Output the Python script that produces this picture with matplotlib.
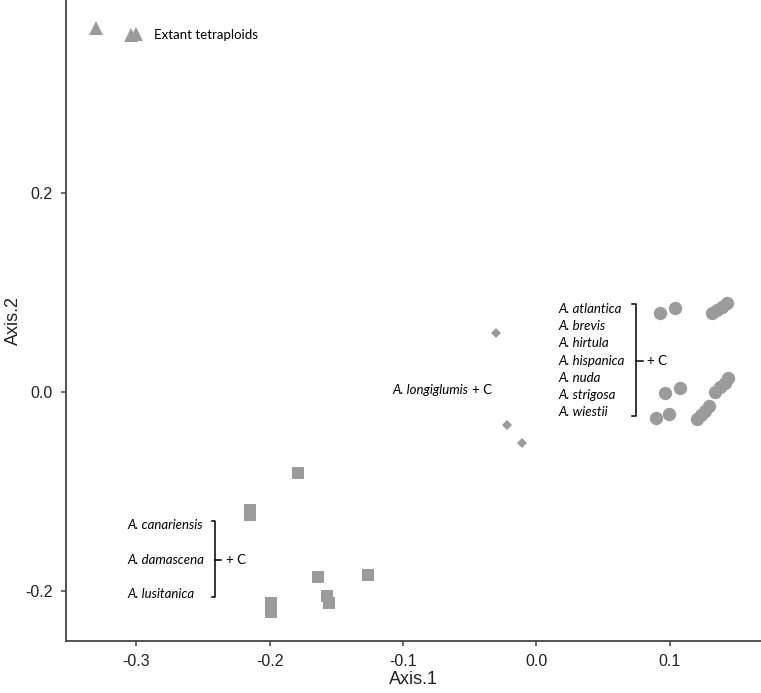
import matplotlib.pyplot as plt

# PCoA scores
tetra_x = [-0.3303, -0.3041, -0.3003]
tetra_y = [0.3658, 0.3588, 0.3598]

longi_x = [-0.0302, -0.0217, -0.0110]
longi_y = [0.0596, -0.0332, -0.0516]

cdiploid_x = [-0.1790, -0.2148, -0.2151, -0.1635, -0.1260, -0.1568, -0.1555, -0.1990, -0.1990]
cdiploid_y = [-0.0811, -0.1186, -0.1236, -0.1862, -0.1839, -0.2050, -0.2124, -0.2124, -0.2208]

adiploid_x = [0.0928, 0.1041, 0.1318, 0.1356, 0.1394, 0.1431,
              0.0966, 0.1078, 0.0896, 0.0996, 0.1341, 0.1378, 0.1416, 0.1438,
              0.1206, 0.1236, 0.1266, 0.1296]
adiploid_y = [0.0794, 0.0844, 0.0794, 0.0824, 0.0854, 0.0894,
              -0.0010, 0.0040, -0.0261, -0.0221, 0.0000, 0.0050, 0.0090, 0.0141,
              -0.0271, -0.0231, -0.0191, -0.0141]

right_species = ["A. atlantica", "A. brevis", "A. hirtula", "A. hispanica",
                 "A. nuda", "A. strigosa", "A. wiestii"]
left_species = ["A. canariensis", "A. damascena", "A. lusitanica"]

xticks = [-0.3, -0.2, -0.1, 0.0, 0.1]
yticks = [-0.2, 0.0, 0.2]

grey = "#9b9b9b"
ink = "#222222"
note_font = "Lato"
note_size = 9.5

fig = plt.figure(figsize=(7.61, 6.93), dpi=100)
ax = fig.add_axes([0.0861, 0.075, 0.9139, 0.925])

ax.plot(tetra_x, tetra_y, "^", color=grey, ms=10.5, mew=0)
ax.plot(longi_x, longi_y, "D", color=grey, ms=5.6, mew=0)
ax.plot(cdiploid_x, cdiploid_y, "s", color=grey, ms=8.4, mew=0)
ax.plot(adiploid_x, adiploid_y, "o", color=grey, ms=9.6, mew=0)

ax.set_xlim(-0.3532, 0.1686)
ax.set_ylim(-0.2503, 0.394)
ax.set_xticks(xticks)
ax.set_yticks(yticks)
ax.set_xticklabels([f"{v:.1f}" for v in xticks])
ax.set_yticklabels([f"{v:.1f}" for v in yticks])

for s in ["top", "right"]:
    ax.spines[s].set_visible(False)
for s in ["left", "bottom"]:
    ax.spines[s].set_color("#444444")
    ax.spines[s].set_linewidth(1.3)
ax.tick_params(direction="out", length=3.5, width=1.1, color="#444444",
               labelsize=11.5, labelcolor=ink, pad=6)
for lab in ax.get_xticklabels() + ax.get_yticklabels():
    lab.set_family("Liberation Sans")

ax.set_xlabel("Axis.1", fontsize=13, family="Liberation Sans", color=ink, labelpad=1)
ax.set_ylabel("Axis.2", fontsize=13, family="Liberation Sans", color=ink, labelpad=2)

# annotations
ax.text(-0.2871, 0.3588, "Extant tetraploids", family=note_font, fontsize=note_size,
        va="center", ha="left", color="black")

ax.text(-0.0332, 0.002, "+ C", family=note_font, fontsize=note_size, va="center", ha="right")
ax.text(-0.0510, 0.002, "A. longiglumis", family=note_font, style="italic",
        fontsize=note_size, va="center", ha="right")

# right bracket group
ry0, rdy = 0.0831, -0.01715
for i, name in enumerate(right_species):
    ax.text(0.0163, ry0 + i * rdy, name, family=note_font, style="italic",
            fontsize=note_size, va="center", ha="left")
bx, btop, bbot = 0.0746, 0.0884, -0.0241
bmid = ry0 + 3 * rdy
ax.plot([bx - 0.0028, bx, bx, bx - 0.0028], [btop, btop, bbot, bbot], color="black", lw=1.1)
ax.plot([bx, bx + 0.0054], [bmid, bmid], color="black", lw=1.1)
ax.text(0.0830, bmid, "+ C", family=note_font, fontsize=note_size, va="center", ha="left")

# left bracket group
ly = [-0.1337, -0.1688, -0.2030]
for name, yy in zip(left_species, ly):
    ax.text(-0.3065, yy, name, family=note_font, style="italic",
            fontsize=note_size, va="center", ha="left")
lx, ltop, lbot = -0.2410, -0.1293, -0.2057
ax.plot([lx - 0.0025, lx, lx, lx - 0.0025], [ltop, ltop, lbot, lbot], color="black", lw=1.1)
ax.plot([lx, lx + 0.0045], [ly[1], ly[1]], color="black", lw=1.1)
ax.text(-0.2328, ly[1], "+ C", family=note_font, fontsize=note_size, va="center", ha="left")

fig.savefig("out.png", dpi=100)
